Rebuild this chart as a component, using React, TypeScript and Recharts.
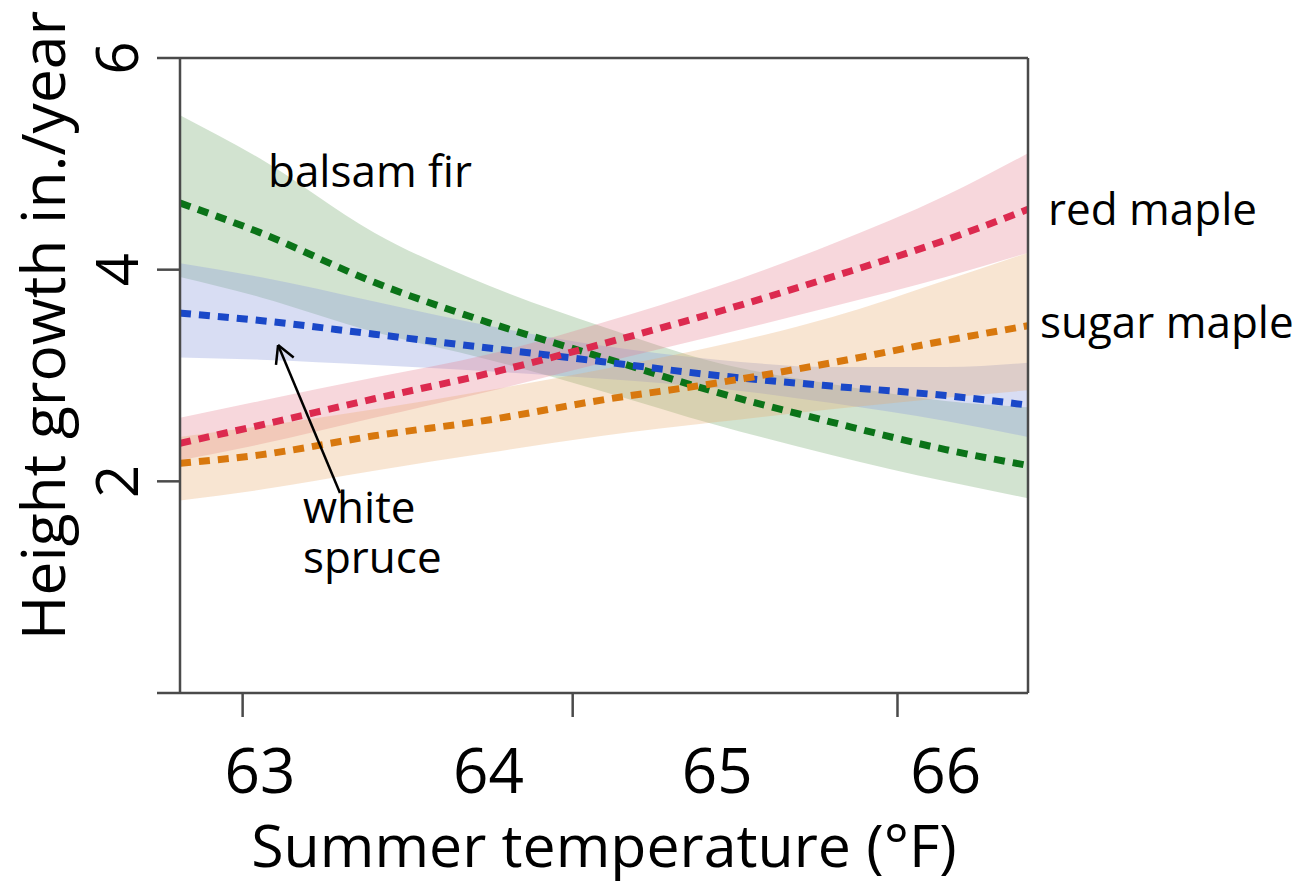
import React from "react";
import {
  ComposedChart,
  Area,
  Line,
  XAxis,
  YAxis,
  Label,
  ReferenceDot,
  ReferenceLine,
} from "recharts";

const temps = [62.65, 63.0, 63.5, 64.0, 64.5, 65.0, 65.5, 66.0, 66.36];

// height growth (in./year), fitted line + confidence band
const balsamFir = [4.63, 4.35, 3.88, 3.5, 3.17, 2.84, 2.56, 2.3, 2.15];
const balsamFirLow = [3.93, 3.74, 3.41, 3.15, 2.85, 2.53, 2.25, 2.0, 1.84];
const balsamFirHigh = [5.46, 5.05, 4.35, 3.85, 3.46, 3.12, 2.92, 2.76, 2.7];

const whiteSpruce = [3.59, 3.52, 3.39, 3.26, 3.13, 3.0, 2.9, 2.81, 2.72];
const whiteSpruceLow = [3.17, 3.15, 3.1, 3.04, 2.97, 2.88, 2.74, 2.57, 2.42];
const whiteSpruceHigh = [4.06, 3.93, 3.7, 3.47, 3.28, 3.15, 3.08, 3.08, 3.12];

const redMaple = [2.36, 2.53, 2.78, 3.02, 3.3, 3.6, 3.93, 4.28, 4.57];
const redMapleLow = [2.2, 2.35, 2.6, 2.85, 3.12, 3.38, 3.65, 3.93, 4.16];
const redMapleHigh = [2.6, 2.76, 2.98, 3.2, 3.5, 3.84, 4.24, 4.7, 5.1];

const sugarMaple = [2.17, 2.25, 2.43, 2.58, 2.77, 2.93, 3.12, 3.33, 3.47];
const sugarMapleLow = [1.82, 1.92, 2.1, 2.27, 2.43, 2.56, 2.68, 2.79, 2.86];
const sugarMapleHigh = [2.42, 2.52, 2.68, 2.86, 3.06, 3.28, 3.55, 3.9, 4.16];

// axis ticks: labels and the (offset) tick marks of the original figure
const xLabelTicks = [63, 64, 65, 66];
const xMarkTicks = [62.924, 64.368, 65.789];
const yTicks = [0, 2, 4, 6];
const xDomain = [62.65, 66.36];
const yDomain = [0, 6];

// annotation anchors
const balsamLabelAt = { x: 63.035, y: 4.78 };
const spruceLabelAt = { x: 63.188, y: 1.606 };
const arrowFrom = { x: 63.35, y: 1.89 };
const arrowTo = { x: 63.079, y: 3.288 };

const data = temps.map((t, i) => ({
  temp: t,
  fir: balsamFir[i],
  firBand: [balsamFirLow[i], balsamFirHigh[i]],
  spruce: whiteSpruce[i],
  spruceBand: [whiteSpruceLow[i], whiteSpruceHigh[i]],
  red: redMaple[i],
  redBand: [redMapleLow[i], redMapleHigh[i]],
  sugar: sugarMaple[i],
  sugarBand: [sugarMapleLow[i], sugarMapleHigh[i]],
}));

const last = temps.length - 1;
const AXIS = "#4a4a4a";

const XTick = (props: any) => {
  const { x, y, payload } = props;
  if (xMarkTicks.includes(payload.value)) {
    return <line x1={x} x2={x} y1={y} y2={y + 24} stroke={AXIS} strokeWidth={2.5} />;
  }
  return (
    <text x={x} y={y + 100} textAnchor="middle" fontSize={62} fill="#000">
      {payload.value}
    </text>
  );
};

const YTick = (props: any) => {
  const { x, y, payload } = props;
  if (payload.value === 0) return null;
  return (
    <text
      x={x}
      y={y}
      transform={`rotate(-90, ${x}, ${y})`}
      textAnchor="middle"
      fontSize={58}
      fill="#000"
    >
      {payload.value}
    </text>
  );
};

const YTitle = (props: any) => {
  const vb = props.viewBox || { x: 0, y: 58, width: 180, height: 635 };
  const x = vb.x + 65;
  const y = vb.y + vb.height / 2 - 50;
  return (
    <text
      x={x}
      y={y}
      transform={`rotate(-90, ${x}, ${y})`}
      textAnchor="middle"
      fontSize={60.5}
      fill="#000"
    >
      Height growth in./year
    </text>
  );
};

const endLabel = (name: string, dx: number, dy: number) => (p: any) => (
  <text x={p.cx + dx} y={p.cy + dy} fontSize={44} fill="#000">
    {name}
  </text>
);

const Arrow = (p: any) => {
  const { x1, y1, x2, y2 } = p;
  const ang = Math.atan2(y1 - y2, x1 - x2);
  const len = 20;
  const spread = 0.5;
  return (
    <g stroke="#000" strokeWidth={2.5} fill="none">
      <line x1={x1} y1={y1} x2={x2} y2={y2} />
      <line x1={x2} y1={y2} x2={x2 + len * Math.cos(ang + spread)} y2={y2 + len * Math.sin(ang + spread)} />
      <line x1={x2} y1={y2} x2={x2 + len * Math.cos(ang - spread)} y2={y2 + len * Math.sin(ang - spread)} />
    </g>
  );
};

const lineStyle = {
  type: "monotone" as const,
  strokeWidth: 7,
  strokeDasharray: "11 8",
  dot: false,
  activeDot: false,
  isAnimationActive: false,
};

export default function App() {
  return (
    <div
      style={{
        position: "absolute",
        left: 0,
        top: 0,
        width: 1311,
        height: 883,
        background: "#fff",
        fontFamily: "'Open Sans', sans-serif",
      }}
    >
      <ComposedChart
        width={1311}
        height={883}
        data={data}
        margin={{ top: 58, right: 283, bottom: 0, left: 0 }}
      >
        <XAxis
          dataKey="temp"
          type="number"
          domain={xDomain}
          allowDataOverflow
          ticks={[...xMarkTicks, ...xLabelTicks]}
          interval={0}
          tick={XTick}
          tickLine={false}
          tickSize={0}
          tickMargin={0}
          axisLine={{ stroke: AXIS, strokeWidth: 2.5 }}
          height={190}
        >
          <Label
            value="Summer temperature (°F)"
            position="insideBottom"
            offset={16}
            fontSize={59}
            fill="#000"
          />
        </XAxis>
        <YAxis
          type="number"
          domain={yDomain}
          ticks={yTicks}
          interval={0}
          width={180}
          tick={YTick}
          tickSize={23}
          tickMargin={19}
          tickLine={{ stroke: AXIS, strokeWidth: 2.5 }}
          axisLine={{ stroke: AXIS, strokeWidth: 2.5 }}
          label={<Label content={YTitle} />}
        />

        <Area dataKey="firBand" type="monotone" stroke="none" fill="#8fb88a" fillOpacity={0.4} isAnimationActive={false} />
        <Area dataKey="spruceBand" type="monotone" stroke="none" fill="#8f9fdc" fillOpacity={0.35} isAnimationActive={false} />
        <Area dataKey="redBand" type="monotone" stroke="none" fill="#e67a8a" fillOpacity={0.3} isAnimationActive={false} />
        <Area dataKey="sugarBand" type="monotone" stroke="none" fill="#e8a86a" fillOpacity={0.3} isAnimationActive={false} />

        <Line dataKey="fir" stroke="#0b7318" {...lineStyle} />
        <Line dataKey="spruce" stroke="#1a48c8" {...lineStyle} />
        <Line dataKey="red" stroke="#dc2a4f" {...lineStyle} />
        <Line dataKey="sugar" stroke="#d8780e" {...lineStyle} />

        {/* box around the plot: top and right sides */}
        <ReferenceLine y={yDomain[1]} stroke={AXIS} strokeWidth={2.5} />
        <ReferenceLine x={xDomain[1]} stroke={AXIS} strokeWidth={2.5} />

        <ReferenceLine segment={[arrowFrom, arrowTo]} shape={Arrow} />
        <ReferenceDot
          x={balsamLabelAt.x}
          y={balsamLabelAt.y}
          shape={(p: any) => (
            <text x={p.cx} y={p.cy} fontSize={44} fill="#000">
              balsam fir
            </text>
          )}
        />
        <ReferenceDot
          x={spruceLabelAt.x}
          y={spruceLabelAt.y}
          shape={(p: any) => (
            <text x={p.cx} y={p.cy} fontSize={44} fill="#000">
              <tspan x={p.cx}>white</tspan>
              <tspan x={p.cx} dy={50}>spruce</tspan>
            </text>
          )}
        />
        <ReferenceDot x={temps[last]} y={redMaple[last]} ifOverflow="visible" shape={endLabel("red maple", 20, 16)} />
        <ReferenceDot x={temps[last]} y={sugarMaple[last]} ifOverflow="visible" shape={endLabel("sugar maple", 12, 12)} />
      </ComposedChart>
    </div>
  );
}
